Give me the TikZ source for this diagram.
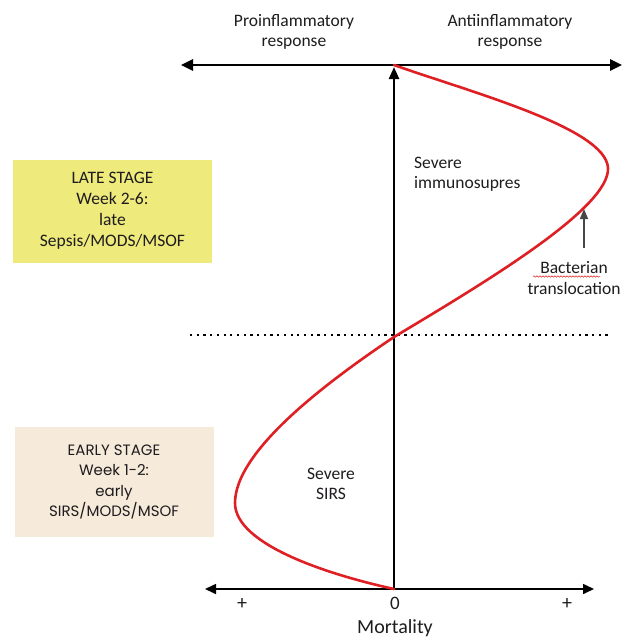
\documentclass[tikz,border=0pt]{standalone}
\usepackage{fontspec}
\setmainfont{Carlito}
\newfontfamily\geofont{Poppins}
\usetikzlibrary{arrows.meta,decorations.pathmorphing}
\definecolor{curvered}{RGB}{222,32,36}
\definecolor{lateyellow}{RGB}{238,234,124}
\definecolor{earlybeige}{RGB}{246,234,218}
\definecolor{txt}{RGB}{30,28,30}
\definecolor{arrowgray}{RGB}{70,70,70}
\tikzset{
  axisline/.style={line width=2.6pt,{Triangle[length=12pt,width=11pt]}-{Triangle[length=12pt,width=11pt]}},
  vaxis/.style={line width=2.4pt,-{Triangle[length=12pt,width=10pt]}},
  baxis/.style={line width=1.6pt,{Triangle[length=11pt,width=10pt]}-{Triangle[length=11pt,width=10pt]}},
  dotline/.style={line width=2.2pt,dash pattern=on 2.2pt off 4.5pt},
  curve/.style={curvered,line width=2.6pt,line cap=round,line join=round},
  lbl/.style={font=\fontsize{17.5}{20.5}\selectfont,text=txt,align=center,inner sep=0pt},
  stagebox/.style={minimum width=199pt,align=center,inner sep=0pt,text=txt},
  transarrow/.style={arrowgray,line width=1.5pt,-{Triangle[length=10pt,width=8pt]}}
}
\begin{document}
\begin{tikzpicture}[x=1pt,y=-1pt]
\useasboundingbox (0,0) rectangle (626,642);
% coordinates
\coordinate (tl) at (181,65);
\coordinate (tr) at (622,65);
\coordinate (top) at (394,67);
\coordinate (orig) at (394,589);
\coordinate (bl) at (205,589);
\coordinate (br) at (594,589);
\coordinate (dl) at (190,335);
\coordinate (dr) at (611,335);
\coordinate (btail) at (584,248);
\coordinate (btip) at (584,209);
\coordinate (c0) at (394,65);
\coordinate (cmax) at (608,168);
\coordinate (cmid) at (394,337);
\coordinate (cmin) at (235,503);
% stage boxes
\node[stagebox,fill=lateyellow,minimum height=103pt,font=\fontsize{17.5}{21}\selectfont] (late) at (112.5,211)
  {LATE STAGE\\Week 2-6:\\late\\Sepsis/MODS/MSOF};
\node[stagebox,fill=earlybeige,minimum height=110pt,font=\geofont\fontsize{15}{20.5}\selectfont] (early) at (114,482)
  {EARLY STAGE\\Week 1-2:\\early\\SIRS/MODS/MSOF};
% axes
\draw[dotline] (dl) -- (dr);
\draw[axisline] (tl) -- (tr);
\draw[baxis] (bl) -- (br);
\draw[vaxis] (orig) -- (top);
% curve
\draw[curve] (c0) .. controls (470,92) and (606,128) .. (cmax)
  .. controls (610,208) and (484,283) .. (cmid)
  .. controls (330,380) and (235,450) .. (cmin)
  .. controls (235,545) and (330,575) .. (orig);
\draw[transarrow] (btail) -- (btip);
% labels
\node[lbl] (pro) at (294,32) {Proinflammatory\\response};
\node[lbl] (anti) at (510,32) {Antiinflammatory\\response};
\node[lbl,align=left,anchor=west] (immu) at (414,174) {Severe\\immunosupres};
\node[lbl] (bact) at (574,278) {Bacterian\\translocation};
\node[lbl] (sirs) at (331,484) {Severe\\SIRS};
\draw[curvered,line width=0.5pt,decorate,decoration={snake,amplitude=0.7pt,segment length=3pt}]
  (533,276.5) -- (600,276.5);
\node[lbl,font=\fontsize{20}{22}\selectfont] (pl) at (242,604) {+};
\node[lbl,font=\fontsize{19}{22}\selectfont] (zero) at (395,603) {0};
\node[lbl,font=\fontsize{20}{22}\selectfont] (pr) at (567,604) {+};
\node[lbl,font=\fontsize{20}{22}\selectfont] (mort) at (395,628) {Mortality};
\end{tikzpicture}
\end{document}
